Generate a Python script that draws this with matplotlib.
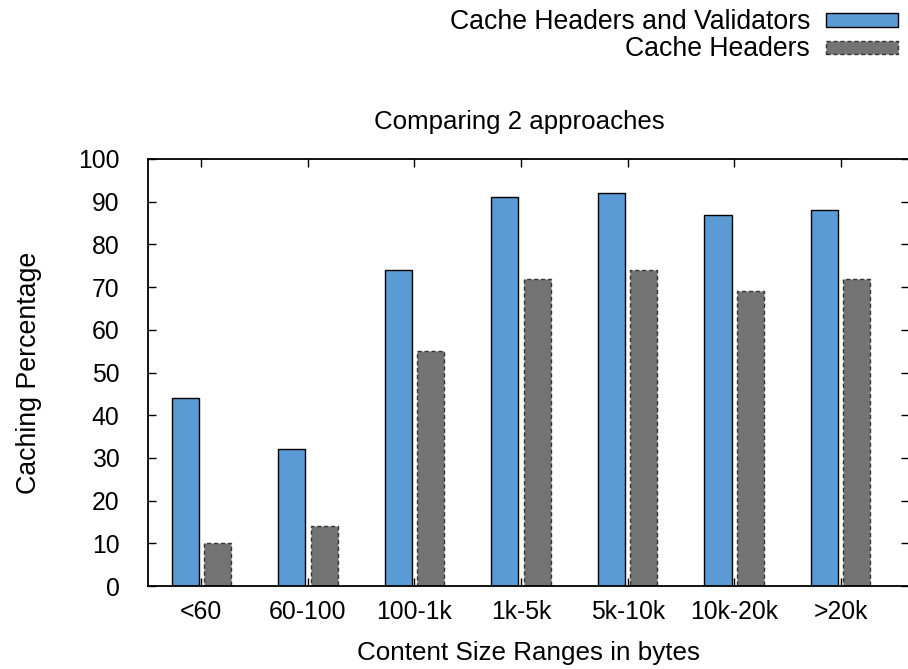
import numpy as np
import matplotlib.pyplot as plt
from matplotlib.patches import Rectangle

plt.rcParams['font.family'] = ['Liberation Sans', 'DejaVu Sans']

categories = ["<60", "60-100", "100-1k", "1k-5k", "5k-10k", "10k-20k", ">20k"]
validators = [44, 32, 74, 91, 92, 87, 88]
headers = [10, 14, 55, 72, 74, 69, 72]
yticks = [0, 10, 20, 30, 40, 50, 60, 70, 80, 90, 100]

blue = '#5b9bd5'
grey = '#737373'

W, H = 908, 669
fig = plt.figure(figsize=(W / 100, H / 100), dpi=100)
ax = fig.add_axes([148 / W, 1 - 586 / H, (909.5 - 148) / W, (586 - 159) / H])

x = np.arange(len(categories))
bw = 0.254
ax.bar(x - 0.152, validators, bw, color=blue, edgecolor='black', linewidth=1.0)
ax.bar(x + 0.152, headers, bw, color=grey, edgecolor='#333333', linewidth=1.0,
       linestyle=(0, (3, 2)))

ax.set_xlim(-0.5, 6.645)
ax.set_ylim(0, 100)
ax.set_xticks(x)
ax.set_xticklabels(categories)
ax.set_yticks(yticks)
ax.tick_params(axis='both', direction='in', labelsize=17.8, length=6, width=1.0,
               top=True, right=True)
ax.tick_params(axis='y', pad=20.5)
ax.tick_params(axis='x', pad=10)
for s in ax.spines.values():
    s.set_linewidth(1.3)

ax.set_xlabel('Content Size Ranges in bytes', fontsize=18.7, labelpad=12)
ax.set_ylabel('Caching Percentage', fontsize=19.3, labelpad=26)
fig.text(519 / W, 1 - 122 / H, 'Comparing 2 approaches', fontsize=18.6,
         ha='center', va='center')

# legend, gnuplot style in the top right corner
# (label, face, edge, style, text baseline px, box top px)
entries = [('Cache Headers and Validators', blue, 'black', '-', 29, 13.5),
           ('Cache Headers', grey, '#333333', (0, (3, 2)), 56, 41)]
for label, fc, ec, ls, base, top in entries:
    fig.text(810 / W, 1 - base / H, label, fontsize=19.2, ha='right',
             va='baseline')
    fig.patches.append(Rectangle((826 / W, 1 - (top + 13) / H), 72 / W, 13 / H,
                                 transform=fig.transFigure, facecolor=fc,
                                 edgecolor=ec, linewidth=1.0, linestyle=ls))

fig.savefig('out.png', dpi=100)
